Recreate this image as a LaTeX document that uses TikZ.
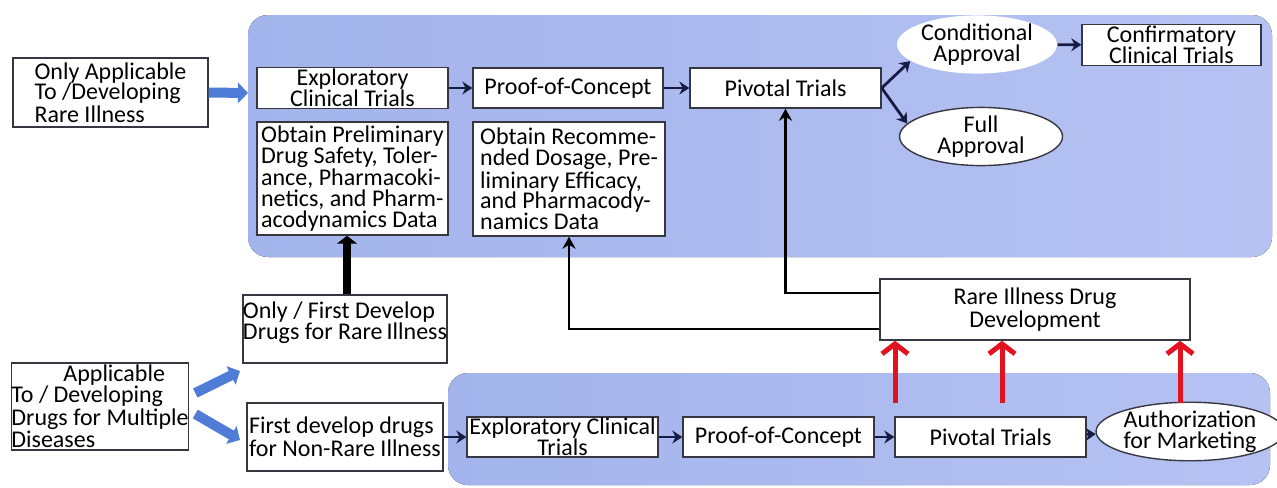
\documentclass[tikz,border=0pt]{standalone}
\usepackage{fontspec}
\setmainfont{Carlito}
\usetikzlibrary{arrows.meta,shapes.geometric}

\definecolor{regionblue}{RGB}{163,180,236}
\definecolor{regionlight}{RGB}{182,194,242}
\definecolor{boxline}{RGB}{55,55,65}
\definecolor{flownavy}{RGB}{22,28,68}
\definecolor{arrowblue}{RGB}{78,124,214}
\definecolor{upred}{RGB}{226,18,30}

\begin{document}
\begin{tikzpicture}[x=0.5pt, y=-0.5pt,
  txt/.style={font=\fontsize{12}{10.3}\selectfont},
  box/.style={txt, draw=boxline, fill=white, line width=0.7pt, inner sep=1pt},
  oval/.style={txt, ellipse, draw=boxline, fill=white, line width=0.7pt,
    inner sep=0pt, align=center},
  flow/.style={draw=flownavy, line width=1.4pt,
    -{Stealth[length=5pt,width=6.5pt]}},
  link/.style={draw=black, line width=1.4pt, -{Stealth[length=6pt,width=6.5pt]}},
  widearrow/.style={draw=arrowblue, line width=5pt,
    -{Triangle[length=5pt,width=10pt]}},
  thickup/.style={draw=black, line width=4pt, -{Triangle[length=4pt,width=10pt]}},
  redup/.style={draw=upred, line width=2.5pt,
    -{Straight Barb[length=5pt,width=13pt]}}]

  \useasboundingbox (0,0) rectangle (1277,487);

  % the two shaded lanes
  \fill[left color=regionblue, right color=regionlight, rounded corners=10pt]
    (248,15) rectangle (1272,257);
  \fill[left color=regionblue, right color=regionlight, rounded corners=10pt]
    (448,373) rectangle (1270,485);

  % rare illness only lane
  \node[box, minimum width=97.5pt, minimum height=34.5pt, align=left] (only)
    at (110.5,92.5) {Only Applicable\\To /Developing\\Rare Illness};
  \node[box, minimum width=95.5pt, minimum height=20pt, align=center] (explA)
    at (352.5,88) {Exploratory\\Clinical Trials};
  \node[box, minimum width=95.5pt, minimum height=56.5pt, align=left] (prelim)
    at (352.5,178.5) {Obtain Preliminary\\Drug Safety, Toler-\\ance, Pharmacoki-\\netics, and Pharm-\\acodynamics Data};
  \node[box, minimum width=95pt, minimum height=20pt] (pocA)
    at (568,88) {Proof-of-Concept};
  \node[box, minimum width=96pt, minimum height=57pt, align=left] (recom)
    at (569,179) {Obtain Recomme-\\nded Dosage, Pre-\\liminary Efficacy,\\and Pharmacody-\\namics Data};
  \node[box, minimum width=95.5pt, minimum height=20pt] (pivA)
    at (785.5,88) {Pivotal Trials};
  \node[oval, draw=none, minimum width=80pt, minimum height=27.5pt] (cond)
    at (977,44.5) {Conditional\\Approval};
  \node[oval, minimum width=81.5pt, minimum height=28.5pt] (full)
    at (981,136.5) {Full\\Approval};
  \node[box, minimum width=89.5pt, minimum height=20pt, align=center] (confirm)
    at (1171.5,45) {Confirmatory\\Clinical Trials};

  % multiple diseases lane
  \node[box, minimum width=98pt, minimum height=34pt, inner xsep=0pt] (rarefirst)
    at (345,329) {\vbox to 31pt{\kern2pt\hbox{Only / First Develop}\hbox{Drugs for Rare\,Illness}\vfil}};
  \node[box, minimum width=87pt, minimum height=43.5pt, inner xsep=0pt, align=left] (multi)
    at (100,406.5) {\hspace*{26pt}Applicable\\To / Developing\\Drugs for Multiple\\Diseases};
  \node[box, minimum width=98pt, minimum height=34pt, align=left] (nonrare)
    at (345,437) {First develop drugs\\for Non-Rare Illness};
  \node[box, minimum width=95.5pt, minimum height=20pt, inner sep=0pt, align=center] (explB)
    at (562.5,437) {Exploratory Clinical\\Trials};
  \node[box, minimum width=95.5pt, minimum height=20pt] (pocB)
    at (778.5,437) {Proof-of-Concept};
  \node[box, minimum width=95.5pt, minimum height=20pt] (pivB)
    at (990.5,437) {Pivotal Trials};
  \node[oval, minimum width=82pt, minimum height=28.5pt] (auth)
    at (1190,431.5) {Authorization\\for Marketing};
  \node[box, minimum width=155pt, minimum height=30.5pt, align=center] (dev)
    at (1035,309.5) {Rare Illness Drug\\Development};

  \coordinate (laneedge) at (248,93);
  \coordinate (a1) at (240,371);
  \coordinate (a2) at (240,440);
  \coordinate (r1) at (895,403);
  \coordinate (r2) at (1002,403);
  \coordinate (r3) at (1180,403);

  % wide blue arrows
  \draw[widearrow] (only.east) -- (laneedge);
  \draw[widearrow] ([xshift=3pt,yshift=6.75pt]multi.east) -- (a1);
  \draw[widearrow] ([xshift=3pt,yshift=-3.75pt]multi.east) -- (a2);

  % flow arrows
  \draw[flow] (explA) -- (pocA);
  \draw[flow] (pocA) -- (pivA);
  \draw[flow] (pivA.east) -- (cond.194);
  \draw[flow] (pivA.east) -- (full.170);
  \draw[flow] (cond) -- (confirm);
  \draw[flow] (nonrare) -- (explB);
  \draw[flow] (explB) -- (pocB);
  \draw[flow] (pocB) -- (pivB);
  \draw[flow] (pivB) -- (auth);

  % links back to the upper lane
  \draw[thickup] ([xshift=1pt]rarefirst.north) -- ([xshift=1pt]rarefirst.north |- prelim.south);
  \draw[link] ([yshift=8.25pt]dev.west) -| (pivA.south);
  \draw[link] ([yshift=-9.75pt]dev.west) -| (recom.south);

  % red arrows into rare illness development
  \draw[redup] (r1) -- (r1 |- dev.south);
  \draw[redup] (r2) -- (r2 |- dev.south);
  \draw[redup] (r3) -- (r3 |- dev.south);
\end{tikzpicture}
\end{document}
